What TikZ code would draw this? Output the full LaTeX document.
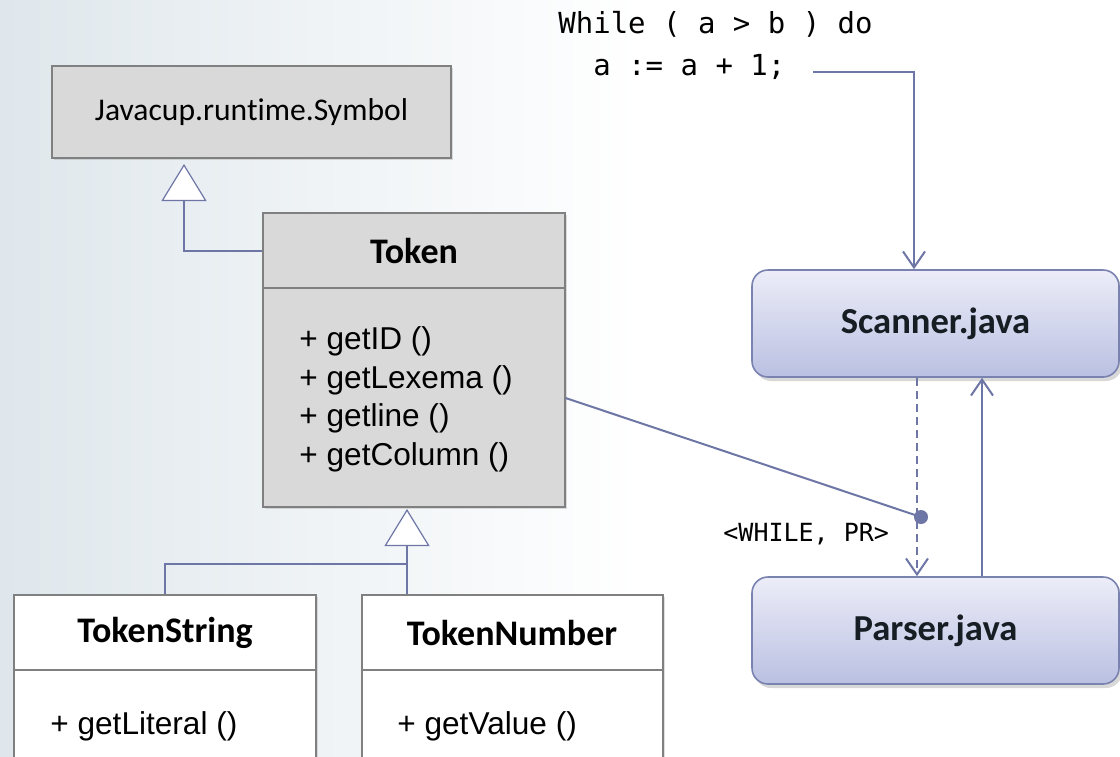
\documentclass[tikz,border=0pt]{standalone}
\usepackage{fontspec}
\usetikzlibrary{arrows.meta,fit,shadows}
\newfontfamily\calibri[Ligatures=NoCommon]{Carlito}
\newfontfamily\arial{Liberation Sans}
\newfontfamily\codefont{DejaVu Sans Mono}

\definecolor{linkblue}{RGB}{110,118,166}
\definecolor{boxgray}{RGB}{217,217,217}
\definecolor{edgegray}{RGB}{128,128,128}
\definecolor{procedge}{RGB}{122,130,176}
\definecolor{proctop}{RGB}{236,237,248}
\definecolor{procbot}{RGB}{186,192,226}
\definecolor{bgblue}{RGB}{223,231,236}
\definecolor{inkdark}{RGB}{22,30,36}

\tikzset{
  umlbox/.style={draw=edgegray, line width=0.6pt, inner sep=0pt,
    drop shadow={shadow xshift=1.2pt, shadow yshift=-1.2pt, opacity=0.25}},
  graybox/.style={umlbox, fill=boxgray},
  whitebox/.style={umlbox, fill=white},
  procbox/.style={draw=procedge, line width=0.8pt, rounded corners=8pt, inner sep=0pt,
    top color=proctop, bottom color=procbot,
    drop shadow={shadow xshift=1.5pt, shadow yshift=-2pt, opacity=0.3}},
  divider/.style={draw=edgegray, line width=0.6pt},
  header/.style={font=\calibri\bfseries\fontsize{18}{22}\selectfont, inner sep=0pt},
  methods/.style={font=\arial\fontsize{15.8}{19.2}\selectfont, align=left, anchor=base west, inner sep=0pt},
  codetext/.style={font=\codefont\fontsize{14.5}{21}\selectfont, align=left, anchor=base west, inner sep=0pt},
  msgtext/.style={font=\codefont\fontsize{12.5}{15}\selectfont, anchor=base west, inner sep=0pt},
  procname/.style={font=\calibri\bfseries\fontsize{18.3}{22}\selectfont, text=inkdark, inner sep=0pt},
  gen/.style={draw=linkblue, line width=1pt,
    -{Triangle[length=18.5pt, width=22.5pt, fill=white, line width=0.6pt]}},
  assoc/.style={draw=linkblue, line width=1pt},
  flow/.style={draw=linkblue, line width=1pt, -{Straight Barb[length=8pt, width=11pt]}},
  dashflow/.style={flow, dash pattern=on 4pt off 2.5pt},
}

\begin{document}
\begin{tikzpicture}[x=0.5pt, y=-0.5pt]
  \useasboundingbox (0,0) rectangle (1120,756);
  \clip (0,0) rectangle (1120,756);

  % backdrop
  \fill[white] (0,0) rectangle (1120,756);
  \shade[left color=bgblue, right color=white] (0,0) rectangle (640,756);

  % class boxes
  \node[graybox, fit={(52,66) (451,158)}] (Symbol) {};
  \node[font=\calibri\fontsize{15.8}{19}\selectfont, inner sep=0pt] (SymbolName) at (Symbol.center) {Javacup.runtime.Symbol};

  \node[graybox, fit={(263,213) (565,507)}] (Token) {};
  \draw[divider] (263,288) -- (565,288);
  \node[header] (TokenName) at (414,251) {Token};
  % base anchor sits on the last line of a multi-line node
  \node[methods] (TokenOps) at (299,465) {+ getID ()\\+ getLexema ()\\+ getline ()\\+ getColumn ()};

  \node[whitebox, fit={(14,595) (316,790)}] (TokenString) {};
  \draw[divider] (14,670) -- (316,670);
  \node[header] (TokenStringName) at (165,633) {TokenString};
  \node[methods] (TokenStringOps) at (50,734) {+ getLiteral ()};

  \node[whitebox, fit={(362,595) (663,790)}] (TokenNumber) {};
  \draw[divider] (362,670) -- (663,670);
  \node[header] (TokenNumberName) at (512,633) {TokenNumber};
  \node[methods] (TokenNumberOps) at (397,734) {+ getValue ()};

  % processes
  \node[procbox, fit={(752,270) (1119,377)}] (Scanner) {};
  \node[procname] (ScannerName) at (Scanner.center) {Scanner.java};
  \node[procbox, fit={(752,577) (1119,684)}] (Parser) {};
  \node[procname] (ParserName) at (Parser.center) {Parser.java};

  % source fragment
  \node[codetext] (Code) at (558,75) {While ( a > b ) do\\\phantom{aa}a := a + 1;};

  % token message
  \node[msgtext] (Msg) at (723,541) {<WHILE, PR>};

  % helper points
  \coordinate (symTip) at (184,164);
  \coordinate (tokTip) at (407,509);
  \coordinate (join) at (407,564);
  \coordinate (codeEnd) at (813,72);
  \coordinate (dot) at (921,517);

  % inheritance
  \draw[gen] (Token.west |- 0,251) -| (symTip);
  \draw[gen] (TokenNumber.north -| join) -- (tokTip);
  \draw[assoc] (TokenString.north -| 165,0) |- (join);

  % data flow
  \draw[flow] (codeEnd) -| (Scanner.north -| 914,0);
  \draw[dashflow] (Scanner.south -| 917,0) -- (Parser.north -| 917,0);
  \draw[flow] (Parser.north -| 982,0) -- (Scanner.south -| 982,0);

  % token object sent as message
  \draw[assoc] (Token.east |- 0,398) -- (dot);
  \fill[linkblue] (dot) circle (3.5pt);
\end{tikzpicture}
\end{document}
